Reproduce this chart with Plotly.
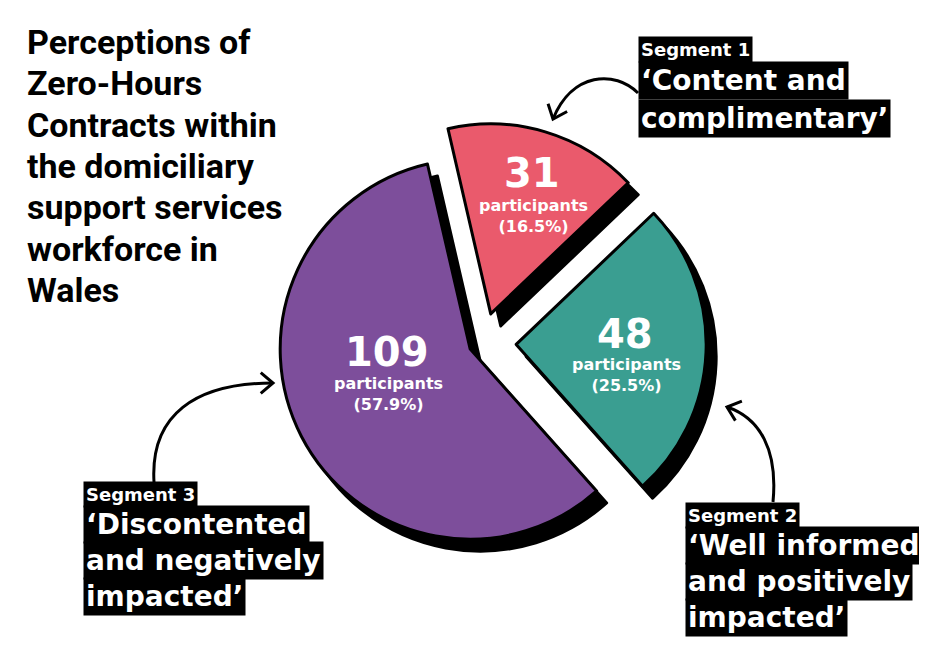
import math
import plotly.graph_objects as go

W, H = 927, 670
OX, OY = 8, 8  # page body margin of the browser

# ---------------- data ----------------
TITLE_LINES = ["Perceptions of", "Zero-Hours", "Contracts within", "the domiciliary",
               "support services", "workforce in", "Wales"]
SEGMENTS = ["Segment 1", "Segment 2", "Segment 3"]
SEGMENT_NAMES = [["‘Content and", "complimentary’"],
                 ["‘Well informed", "and positively", "impacted’"],
                 ["‘Discontented", "and negatively", "impacted’"]]
PARTICIPANTS = [31, 48, 109]
PCT_LABELS = ["16.5%", "25.5%", "57.9%"]

# ---------------- style ----------------
COLORS = ["#EA5A6C", "#3A9E91", "#7D4E9B"]
PULLS = [0.16, 0.18, 0.07]
LABEL_FONT = "DejaVu Sans, Inter, sans-serif"
TITLE_FONT = "Roboto, Inter, sans-serif"


def px(x, y):
    return (x - OX) / W, 1 - (y - OY) / H


def pstr(x, y):
    a, b = px(x, y)
    return f"{a:.5f},{b:.5f}"


cx, cy, R = 482 - OX, 343 - OY, 190
side = 2 * R * (1 + max(PULLS))
dom_x = [(cx - side / 2) / W, (cx + side / 2) / W]
dom_y = [1 - (cy + side / 2) / H, 1 - (cy - side / 2) / H]
sdx, sdy = 10 / W, 12 / H

fig = go.Figure()
common = dict(values=PARTICIPANTS, labels=SEGMENTS, sort=False, direction="clockwise",
              rotation=-13, pull=PULLS, textinfo="none", hoverinfo="skip", showlegend=False)
fig.add_trace(go.Pie(**common, domain=dict(x=[dom_x[0] + sdx, dom_x[1] + sdx],
                                           y=[dom_y[0] - sdy, dom_y[1] - sdy]),
                     marker=dict(colors=["#000000"] * 3, line=dict(color="#000000", width=3))))
fig.add_trace(go.Pie(**common, domain=dict(x=dom_x, y=dom_y),
                     marker=dict(colors=COLORS, line=dict(color="#000000", width=3))))

ann = []
# title
t_size = 34
for i, line in enumerate(TITLE_LINES):
    x, y = px(26, 42 + i * 41.3)
    ann.append(dict(x=x, y=y, xref="paper", yref="paper", xanchor="left", yanchor="middle",
                    text=f"<b>{line}</b>", showarrow=False, borderpad=0,
                    font=dict(family=TITLE_FONT, size=t_size, color="#000000", weight=900)))

# slice labels: number, then "participants (pct)"
num_pos = [(532, 173.5), (625, 333.5), (387, 351.5)]
sub_pos = [(533, 216), (626, 375), (388, 394)]
for v, p, (nx, ny), (sx, sy) in zip(PARTICIPANTS, PCT_LABELS, num_pos, sub_pos):
    x, y = px(nx, ny)
    ann.append(dict(x=x, y=y, xref="paper", yref="paper", xanchor="center", yanchor="middle",
                    text=str(v), showarrow=False, borderpad=0,
                    font=dict(family=LABEL_FONT, size=40, color="#ffffff", weight="bold")))
    x, y = px(sx, sy)
    ann.append(dict(x=x, y=y, xref="paper", yref="paper", xanchor="center", yanchor="middle",
                    text=f"participants<br>({p})", showarrow=False, align="center", borderpad=0,
                    font=dict(family=LABEL_FONT, size=16, color="#ffffff", weight="bold")))

# segment labels (black boxes)
seg_pos = [(638, 49, [81, 118.5]),
           (685, 515, [545, 581, 617]),
           (83, 494.5, [524.5, 560, 596.5])]
for seg, names, (x0, yseg, ynames) in zip(SEGMENTS, SEGMENT_NAMES, seg_pos):
    x, y = px(x0, yseg)
    ann.append(dict(x=x, y=y, xref="paper", yref="paper", xanchor="left", yanchor="middle",
                    text=seg, showarrow=False, bgcolor="#000000", borderpad=2,
                    font=dict(family=LABEL_FONT, size=18, color="#ffffff", weight="bold")))
    for nm, yn in zip(names, ynames):
        x, y = px(x0, yn)
        ann.append(dict(x=x, y=y, xref="paper", yref="paper", xanchor="left", yanchor="middle",
                        text=nm, showarrow=False, bgcolor="#000000", borderpad=2,
                        font=dict(family=LABEL_FONT, size=28, color="#ffffff", weight="bold")))

# curved arrows
shapes = []


def arrow(p0, c1, c2, p1):
    path = f"M{pstr(*p0)} C{pstr(*c1)} {pstr(*c2)} {pstr(*p1)}"
    shapes.append(dict(type="path", xref="paper", yref="paper", path=path,
                       line=dict(color="#000000", width=3)))
    dx, dy = p1[0] - c2[0], p1[1] - c2[1]
    n = math.hypot(dx, dy)
    dx, dy = dx / n, dy / n
    L = 16
    arms = []
    for ang in (40, -40):
        a = math.radians(ang)
        rx = -(dx * math.cos(a) - dy * math.sin(a))
        ry = -(dx * math.sin(a) + dy * math.cos(a))
        arms.append((p1[0] + L * rx, p1[1] + L * ry))
    path = f"M{pstr(*arms[0])} L{pstr(*p1)} L{pstr(*arms[1])}"
    shapes.append(dict(type="path", xref="paper", yref="paper", path=path,
                       line=dict(color="#000000", width=3)))


arrow((638, 93), (615, 70), (572, 72), (553, 119))
arrow((154, 482), (150, 415), (195, 383), (273, 383))
arrow((773, 502), (778, 450), (760, 418), (727, 407))

fig.update_layout(width=W, height=H, margin=dict(l=0, r=0, t=0, b=0),
                  paper_bgcolor="#ffffff", plot_bgcolor="#ffffff",
                  annotations=ann, shapes=shapes)
fig.write_html("out.html")
